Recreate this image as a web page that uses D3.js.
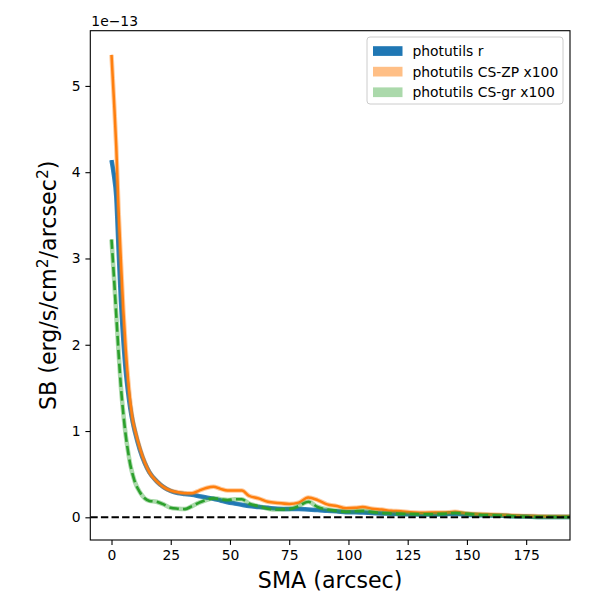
<!DOCTYPE html>
<html>
<head>
<meta charset="utf-8">
<script src="https://cdn.jsdelivr.net/npm/d3@7"></script>
<style>
  body { margin: 0; background: #fff; }
  svg text { font-family: "DejaVu Sans", sans-serif; fill: #000; }
</style>
</head>
<body>
<script>
// SMA (arcsec) sample positions, shared by all three profiles
var sma = [0, 1, 2, 3, 4, 5, 6, 7, 8, 9, 10, 12, 14, 16, 19, 22, 25, 28, 31, 34,
           37, 40, 43, 46, 49, 52, 55, 58, 62, 66, 70, 75, 79, 83, 87, 91, 95, 99, 103, 106,
           110, 114, 118, 122, 126, 130, 135, 140, 145, 150, 155, 160, 165, 170, 175, 180, 185, 190, 194];

// surface brightness, units of 1e-13
var sbR = [4.14, 3.97, 3.72, 3.10, 2.50, 2.05, 1.70, 1.45, 1.25, 1.10, 0.98, 0.78, 0.63, 0.52, 0.42, 0.35, 0.305, 0.28, 0.27, 0.26,
           0.245, 0.23, 0.215, 0.195, 0.175, 0.16, 0.145, 0.13, 0.12, 0.11, 0.10, 0.095, 0.095, 0.09, 0.085, 0.075, 0.07, 0.06, 0.058, 0.055,
           0.05, 0.045, 0.042, 0.038, 0.035, 0.033, 0.032, 0.035, 0.04, 0.03, 0.025, 0.02, 0.018, 0.012, 0.008, 0.005, 0.004, 0.003, 0.003];

var sbZP = [5.36, 4.85, 4.30, 3.55, 2.95, 2.40, 1.95, 1.60, 1.32, 1.12, 1.00, 0.80, 0.64, 0.52, 0.42, 0.35, 0.31, 0.29, 0.28, 0.28,
            0.31, 0.34, 0.355, 0.33, 0.31, 0.31, 0.31, 0.25, 0.22, 0.18, 0.165, 0.155, 0.17, 0.23, 0.20, 0.15, 0.13, 0.105, 0.11, 0.12,
            0.10, 0.09, 0.075, 0.07, 0.058, 0.053, 0.055, 0.055, 0.065, 0.045, 0.038, 0.032, 0.027, 0.022, 0.016, 0.013, 0.01, 0.008, 0.008];

var sbGR = [3.22, 2.80, 2.35, 1.90, 1.50, 1.20, 0.95, 0.76, 0.60, 0.49, 0.40, 0.29, 0.22, 0.19, 0.18, 0.15, 0.11, 0.10, 0.095, 0.13,
            0.17, 0.20, 0.22, 0.21, 0.20, 0.21, 0.21, 0.16, 0.13, 0.10, 0.09, 0.095, 0.13, 0.18, 0.12, 0.09, 0.075, 0.065, 0.07, 0.075,
            0.06, 0.05, 0.045, 0.04, 0.038, 0.035, 0.035, 0.04, 0.05, 0.04, 0.03, 0.025, 0.02, 0.012, 0.008, 0.005, 0.005, 0.004, 0.004];

var xTicks = [0, 25, 50, 75, 100, 125, 150, 175];
var yTicks = [0, 1, 2, 3, 4, 5];
var seriesNames = ["photutils r", "photutils CS-ZP x100", "photutils CS-gr x100"];

var chart = {
  width: 600,
  height: 600,
  box: { left: 90.3, right: 570, top: 30.7, bottom: 540 },
  colors: ["#1f77b4", "#ff7f0e", "#2ca02c"],
  init: function(){
    chart.svg = d3.select("body").append("svg")
      .attr("width", chart.width).attr("height", chart.height);

    chart.x = d3.scaleLinear().domain([-8.95, 193.5]).range([chart.box.left, chart.box.right]);
    chart.y = d3.scaleLinear().domain([-0.263, 5.64]).range([chart.box.bottom, chart.box.top]);

    chart.clip();
    chart.profiles();
    chart.axes();
    chart.labels();
    chart.legend();
  },
  clip: function(){
    chart.svg.append("clipPath").attr("id", "plot")
      .append("rect")
      .attr("x", chart.box.left).attr("y", chart.box.top)
      .attr("width", chart.box.right - chart.box.left)
      .attr("height", chart.box.bottom - chart.box.top);
  },
  profiles: function(){
    var g = chart.svg.append("g").attr("clip-path", "url(#plot)");
    var sets = [sbR, sbZP, sbGR];

    sets.forEach(function(vals, i){
      var line = d3.line()
        .x(function(d, j){ return chart.x(sma[j]); })
        .y(function(d){ return chart.y(d); })
        .curve(d3.curveMonotoneX);

      // faint band underneath, like the fill_between shading
      g.append("path").attr("d", line(vals))
        .attr("fill", "none").attr("stroke", chart.colors[i])
        .attr("stroke-opacity", i == 0 ? 0.9 : 0.4)
        .attr("stroke-width", 4.5)
        .attr("stroke-linejoin", "round");

      var p = g.append("path").attr("d", line(vals))
        .attr("fill", "none").attr("stroke", chart.colors[i])
        .attr("stroke-width", i == 2 ? 2.6 : 2.5)
        .attr("stroke-linejoin", "round");
      if(i == 2) p.attr("stroke-dasharray", "9.6,4.2");
    });

    // zero line
    g.append("line")
      .attr("x1", chart.box.left).attr("x2", chart.box.right)
      .attr("y1", chart.y(0)).attr("y2", chart.y(0))
      .attr("stroke", "#000").attr("stroke-width", 2)
      .attr("stroke-dasharray", "7.4,3.2");
  },
  axes: function(){
    var xAxis = chart.svg.append("g")
      .attr("transform", "translate(0," + chart.box.bottom + ")")
      .call(d3.axisBottom(chart.x).tickValues(xTicks).tickFormat(d3.format("d")).tickSize(4.9).tickPadding(4.9));
    var yAxis = chart.svg.append("g")
      .attr("transform", "translate(" + chart.box.left + ",0)")
      .call(d3.axisLeft(chart.y).tickValues(yTicks).tickFormat(d3.format("d")).tickSize(4.9).tickPadding(4.9));

    [xAxis, yAxis].forEach(function(a){
      a.select(".domain").remove();
      a.selectAll("line").attr("stroke", "#000").attr("stroke-width", 1.1);
      a.selectAll("text").attr("font-size", "13.9px").style("font-family", "DejaVu Sans");
    });
    xAxis.selectAll("text").attr("dy", "0.75em");

    chart.svg.append("rect")
      .attr("x", chart.box.left).attr("y", chart.box.top)
      .attr("width", chart.box.right - chart.box.left)
      .attr("height", chart.box.bottom - chart.box.top)
      .attr("fill", "none").attr("stroke", "#000").attr("stroke-width", 1.1);
  },
  labels: function(){
    chart.svg.append("text")
      .attr("x", chart.box.left + 1).attr("y", 26)
      .attr("font-size", "13.9px")
      .text("1e\u221213");

    chart.svg.append("text")
      .attr("x", (chart.box.left + chart.box.right) / 2).attr("y", 588)
      .attr("text-anchor", "middle").attr("font-size", "22.2px")
      .text("SMA (arcsec)");

    var yl = chart.svg.append("text")
      .attr("transform", "translate(56," + (chart.box.top + chart.box.bottom) / 2 + ") rotate(-90)")
      .attr("text-anchor", "middle").attr("font-size", "22.2px");
    yl.append("tspan").text("SB (erg/s/cm");
    yl.append("tspan").attr("dy", -8).attr("font-size", "15.5px").text("2");
    yl.append("tspan").attr("dy", 8).text("/arcsec");
    yl.append("tspan").attr("dy", -8).attr("font-size", "15.5px").text("2");
    yl.append("tspan").attr("dy", 8).text(")");
  },
  legend: function(){
    var lg = chart.svg.append("g").attr("transform", "translate(367,37)");
    lg.append("rect")
      .attr("width", 196).attr("height", 67).attr("rx", 3)
      .attr("fill", "#fff").attr("fill-opacity", 0.8)
      .attr("stroke", "#ccc").attr("stroke-width", 1);

    var opac = [1, 0.5, 0.4];
    seriesNames.forEach(function(name, i){
      var row = lg.append("g").attr("transform", "translate(0," + (14 + i * 20.6) + ")");
      row.append("rect")
        .attr("x", 6).attr("y", -4.8).attr("width", 29.5).attr("height", 9.7)
        .attr("fill", chart.colors[i]).attr("fill-opacity", opac[i]);
      row.append("text")
        .attr("x", 45.5).attr("y", 5)
        .attr("font-size", "13.9px")
        .text(name);
    });
  }
};

chart.init();
</script>
</body>
</html>
